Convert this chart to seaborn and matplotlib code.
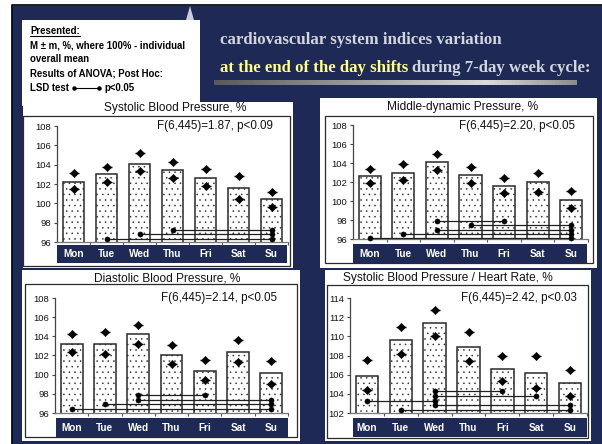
import numpy as np
import pandas as pd
import matplotlib
matplotlib.use("Agg")
import matplotlib.pyplot as plt
import seaborn as sns
from matplotlib.patches import Rectangle, Polygon
from matplotlib.lines import Line2D

days = ["Mon", "Tue", "Wed", "Thu", "Fri", "Sat", "Su"]

# Systolic blood pressure, % of individual mean
sbp_mean = [102.2, 103.0, 104.1, 103.4, 102.6, 101.6, 100.4]
sbp_upper = [103.1, 103.8, 105.2, 104.3, 103.6, 102.8, 101.2]
sbp_lower = [101.5, 102.2, 103.3, 102.6, 101.8, 100.5, 99.6]
sbp_pairs = [("Tue", "Su", 96.35), ("Wed", "Su", 96.8), ("Thu", "Su", 97.25)]

# Middle-dynamic pressure
mdp_mean = [102.6, 103.0, 104.1, 102.7, 101.6, 102.0, 100.1]
mdp_upper = [103.4, 103.9, 105.0, 103.6, 102.4, 103.0, 101.1]
mdp_lower = [101.9, 102.2, 103.3, 101.9, 100.8, 100.9, 99.3]
mdp_pairs = [("Mon", "Su", 96.1), ("Tue", "Su", 96.5), ("Wed", "Su", 97.0),
             ("Thu", "Su", 97.5), ("Wed", "Fri", 97.9)]

# Diastolic blood pressure
dbp_mean = [103.2, 103.2, 104.2, 102.1, 100.4, 102.4, 100.2]
dbp_upper = [104.2, 104.4, 105.2, 103.1, 101.5, 103.6, 101.4]
dbp_lower = [102.4, 102.2, 103.2, 101.1, 99.4, 101.3, 99.0]
dbp_pairs = [("Mon", "Su", 96.4), ("Tue", "Su", 96.9), ("Wed", "Su", 97.4),
             ("Wed", "Fri", 97.9)]

# Systolic blood pressure / heart rate
shr_mean = [105.9, 109.6, 111.4, 108.9, 106.6, 106.2, 105.1]
shr_upper = [107.5, 111.0, 112.7, 110.5, 107.9, 107.9, 106.5]
shr_lower = [104.4, 108.2, 110.0, 107.4, 105.3, 104.6, 103.8]
shr_pairs = [("Mon", "Wed", 103.3), ("Tue", "Su", 102.3), ("Wed", "Fri", 104.3),
             ("Wed", "Sat", 103.75), ("Wed", "Su", 102.8)]

sns.set_theme(style="white")
plt.rcParams["font.family"] = ["Liberation Sans", "DejaVu Sans"]
plt.rcParams["hatch.linewidth"] = 0.35

W, H = 602, 444
NAVY = "#1e2a55"
EDGE = "#2a2a2a"

fig = plt.figure(figsize=(W / 100, H / 100), dpi=100)
fig.patch.set_facecolor("white")


def fx(px):
    return px / W


def fy(py):
    return 1 - py / H


def frect(x0, y0, x1, y1, **kw):
    r = Rectangle((fx(x0), fy(y1)), (x1 - x0) / W, (y1 - y0) / H,
                  transform=fig.transFigure, **kw)
    fig.add_artist(r)
    return r


# slide background and frame
frect(12, 6, W, H, facecolor=NAVY, edgecolor="none", zorder=-10)
fig.add_artist(Line2D([fx(11.5), fx(11.5), 1], [0, fy(5.5), fy(5.5)],
                      transform=fig.transFigure, color="#0a0a12", lw=1.3, zorder=-9))
fig.add_artist(Polygon([(fx(186), fy(20)), (fx(190), fy(6)), (fx(194), fy(20))],
                       closed=True, transform=fig.transFigure,
                       facecolor="#c9cdd9", edgecolor="none", zorder=-9))

# notes box
frect(22, 20, 200, 106, facecolor="white", edgecolor="none", zorder=-8)
note_kw = dict(fontsize=6.9, fontweight="bold", color="black", va="center")
t_pres = fig.text(fx(30), fy(31), "Presented:", **note_kw)
fig.text(fx(30), fy(45), "M \u00b1 m, %, where 100% - individual", **note_kw)
fig.text(fx(30), fy(59), "overall mean", **note_kw)
fig.text(fx(30), fy(73), "Results of ANOVA; Post Hoc:", **note_kw)
t_lsd = fig.text(fx(30), fy(88), "LSD test", **note_kw)

fig.canvas.draw()
renderer = fig.canvas.get_renderer()
bb = t_pres.get_window_extent(renderer)
fig.add_artist(Line2D([fx(bb.x0), fx(bb.x1)], [fy(36), fy(36)],
                      transform=fig.transFigure, color="black", lw=0.8))
bb = t_lsd.get_window_extent(renderer)
x_a, x_b = bb.x1 + 5, bb.x1 + 30
fig.add_artist(Line2D([fx(x_a), fx(x_b)], [fy(88), fy(88)], transform=fig.transFigure,
                      color="black", lw=0.8, marker="o", markersize=2.2))
fig.text(fx(x_b + 6), fy(88), "p<0.05", **note_kw)

# slide heading
head_kw = dict(fontsize=12.1, fontweight="bold", va="center",
               family=["Liberation Serif", "DejaVu Serif"])
fig.text(fx(220), fy(40), "cardiovascular system indices variation",
         color="#d4d6de", **head_kw)
t_y = fig.text(fx(220), fy(68), "at the end of the day shifts", color="#ffff8a", **head_kw)
fig.canvas.draw()
bb = t_y.get_window_extent(renderer)
fig.text(fx(bb.x1 + 4), fy(68), "during 7-day week cycle:", color="#d4d6de", **head_kw)

# gradient rule under the heading
grad = np.concatenate([np.linspace(0.35, 0.85, 75), np.linspace(0.85, 0.55, 25)])
gax = fig.add_axes([fx(214), fy(85), (577 - 214) / W, 5 / H])
gax.imshow(grad[None, :], aspect="auto", cmap="gray", vmin=0, vmax=1)
gax.set_axis_off()


def panel(means, upper, lower, pairs, lo, hi, title, ftext,
          white, box, axpx, band, title_pos, ftext_pos):
    frect(*white, facecolor="white", edgecolor="none", zorder=-8)
    frect(*box, facecolor="white", edgecolor=EDGE, lw=0.9, zorder=-7)
    frect(*band, facecolor=NAVY, edgecolor="none", zorder=-6)
    fig.text(fx(title_pos[0]), fy(title_pos[1]), title, ha="center", va="center",
             fontsize=8.6, color="#111111")
    fig.text(fx(ftext_pos[0]), fy(ftext_pos[1]), ftext, ha="right", va="center",
             fontsize=8.4, color="#111111")

    l, t, r, b = axpx
    ax = fig.add_axes([fx(l), fy(b), (r - l) / W, (b - t) / H])
    ax.set_facecolor("none")

    df = pd.DataFrame({"day": days, "value": means})
    sns.barplot(data=df, x="day", y="value", ax=ax, color="white", saturation=1,
                edgecolor=EDGE, linewidth=1.1, width=0.66, errorbar=None)
    for p in ax.patches:
        p.set_hatch("...")
        p.set_facecolor("white")

    pos = np.arange(len(days))
    for vals in (upper, lower):
        sns.scatterplot(x=pos, y=vals, ax=ax, marker="_", s=45, color="black",
                        linewidth=1.0, zorder=4, clip_on=False, legend=False)
        sns.scatterplot(x=pos, y=vals, ax=ax, marker="D", s=18, color="black",
                        edgecolor="black", zorder=5, clip_on=False, legend=False)

    for a, c, y in pairs:
        i, j = days.index(a), days.index(c)
        ax.plot([i, j], [y, y], color="#202020", lw=0.9, zorder=3,
                solid_capstyle="butt", clip_on=False)
        sns.scatterplot(x=[i, j], y=[y, y], ax=ax, marker="o", s=14, color="black",
                        edgecolor="black", zorder=5, clip_on=False, legend=False)

    ax.set_xlim(-0.5, len(days) - 0.5)
    ax.set_ylim(lo, hi)
    ax.set_yticks(np.arange(lo, hi + 1, 2))
    ax.set_yticklabels([str(v) for v in range(lo, hi + 1, 2)])
    ax.set_xlabel("")
    ax.set_ylabel("")
    for s in ("top", "right"):
        ax.spines[s].set_visible(False)
    ax.spines["left"].set_color("#444444")
    ax.spines["left"].set_linewidth(0.9)
    ax.spines["bottom"].set_color("#777777")
    ax.spines["bottom"].set_linewidth(0.9)
    ax.tick_params(axis="y", which="major", direction="out", length=2.4, width=0.8,
                   color="#444444", pad=1.6, labelsize=6.8, labelcolor="#111111",
                   left=True)
    ax.set_xticks(np.arange(0.5, len(days), 1), minor=True)
    ax.tick_params(axis="x", which="minor", direction="out", length=2.5, width=0.8,
                   color="#555555", bottom=True)
    band_mid = (band[1] + band[3]) / 2
    ax.tick_params(axis="x", which="major", length=0, bottom=True,
                   pad=(band_mid - b) * 0.72, labelsize=7.2, labelcolor="white")
    for lab in ax.get_xticklabels():
        lab.set_fontweight("bold")
        lab.set_va("center")
    return ax


panel(sbp_mean, sbp_upper, sbp_lower, sbp_pairs, 96, 108,
      "Systolic Blood Pressure, %", "F(6,445)=1.87, p<0.09",
      white=(23, 102, 293, 268), box=(23, 116, 290, 266),
      axpx=(57, 126, 288, 242), band=(57, 245, 287, 263),
      title_pos=(175, 108), ftext_pos=(273, 126))

panel(mdp_mean, mdp_upper, mdp_lower, mdp_pairs, 96, 108,
      "Middle-dynamic Pressure, %", "F(6,445)=2.20, p<0.05",
      white=(320, 98, 597, 268), box=(325, 116, 593, 263),
      axpx=(353, 125, 588, 239), band=(353, 244, 587, 263),
      title_pos=(463, 107), ftext_pos=(575, 126))

panel(dbp_mean, dbp_upper, dbp_lower, dbp_pairs, 96, 108,
      "Diastolic Blood Pressure, %", "F(6,445)=2.14, p<0.05",
      white=(22, 270, 300, 441), box=(25, 284, 297, 437),
      axpx=(55, 298, 288, 413), band=(56, 418, 288, 437),
      title_pos=(167, 278), ftext_pos=(277, 298))

panel(shr_mean, shr_upper, shr_lower, shr_pairs, 102, 114,
      "Systolic Blood Pressure / Heart Rate, %", "F(6,445)=2.42, p<0.03",
      white=(325, 270, 591, 441), box=(327, 285, 588, 438),
      axpx=(350, 298, 587, 413), band=(353, 418, 587, 437),
      title_pos=(448, 278), ftext_pos=(577, 298))

fig.savefig("out.png", dpi=100, facecolor=fig.get_facecolor())
